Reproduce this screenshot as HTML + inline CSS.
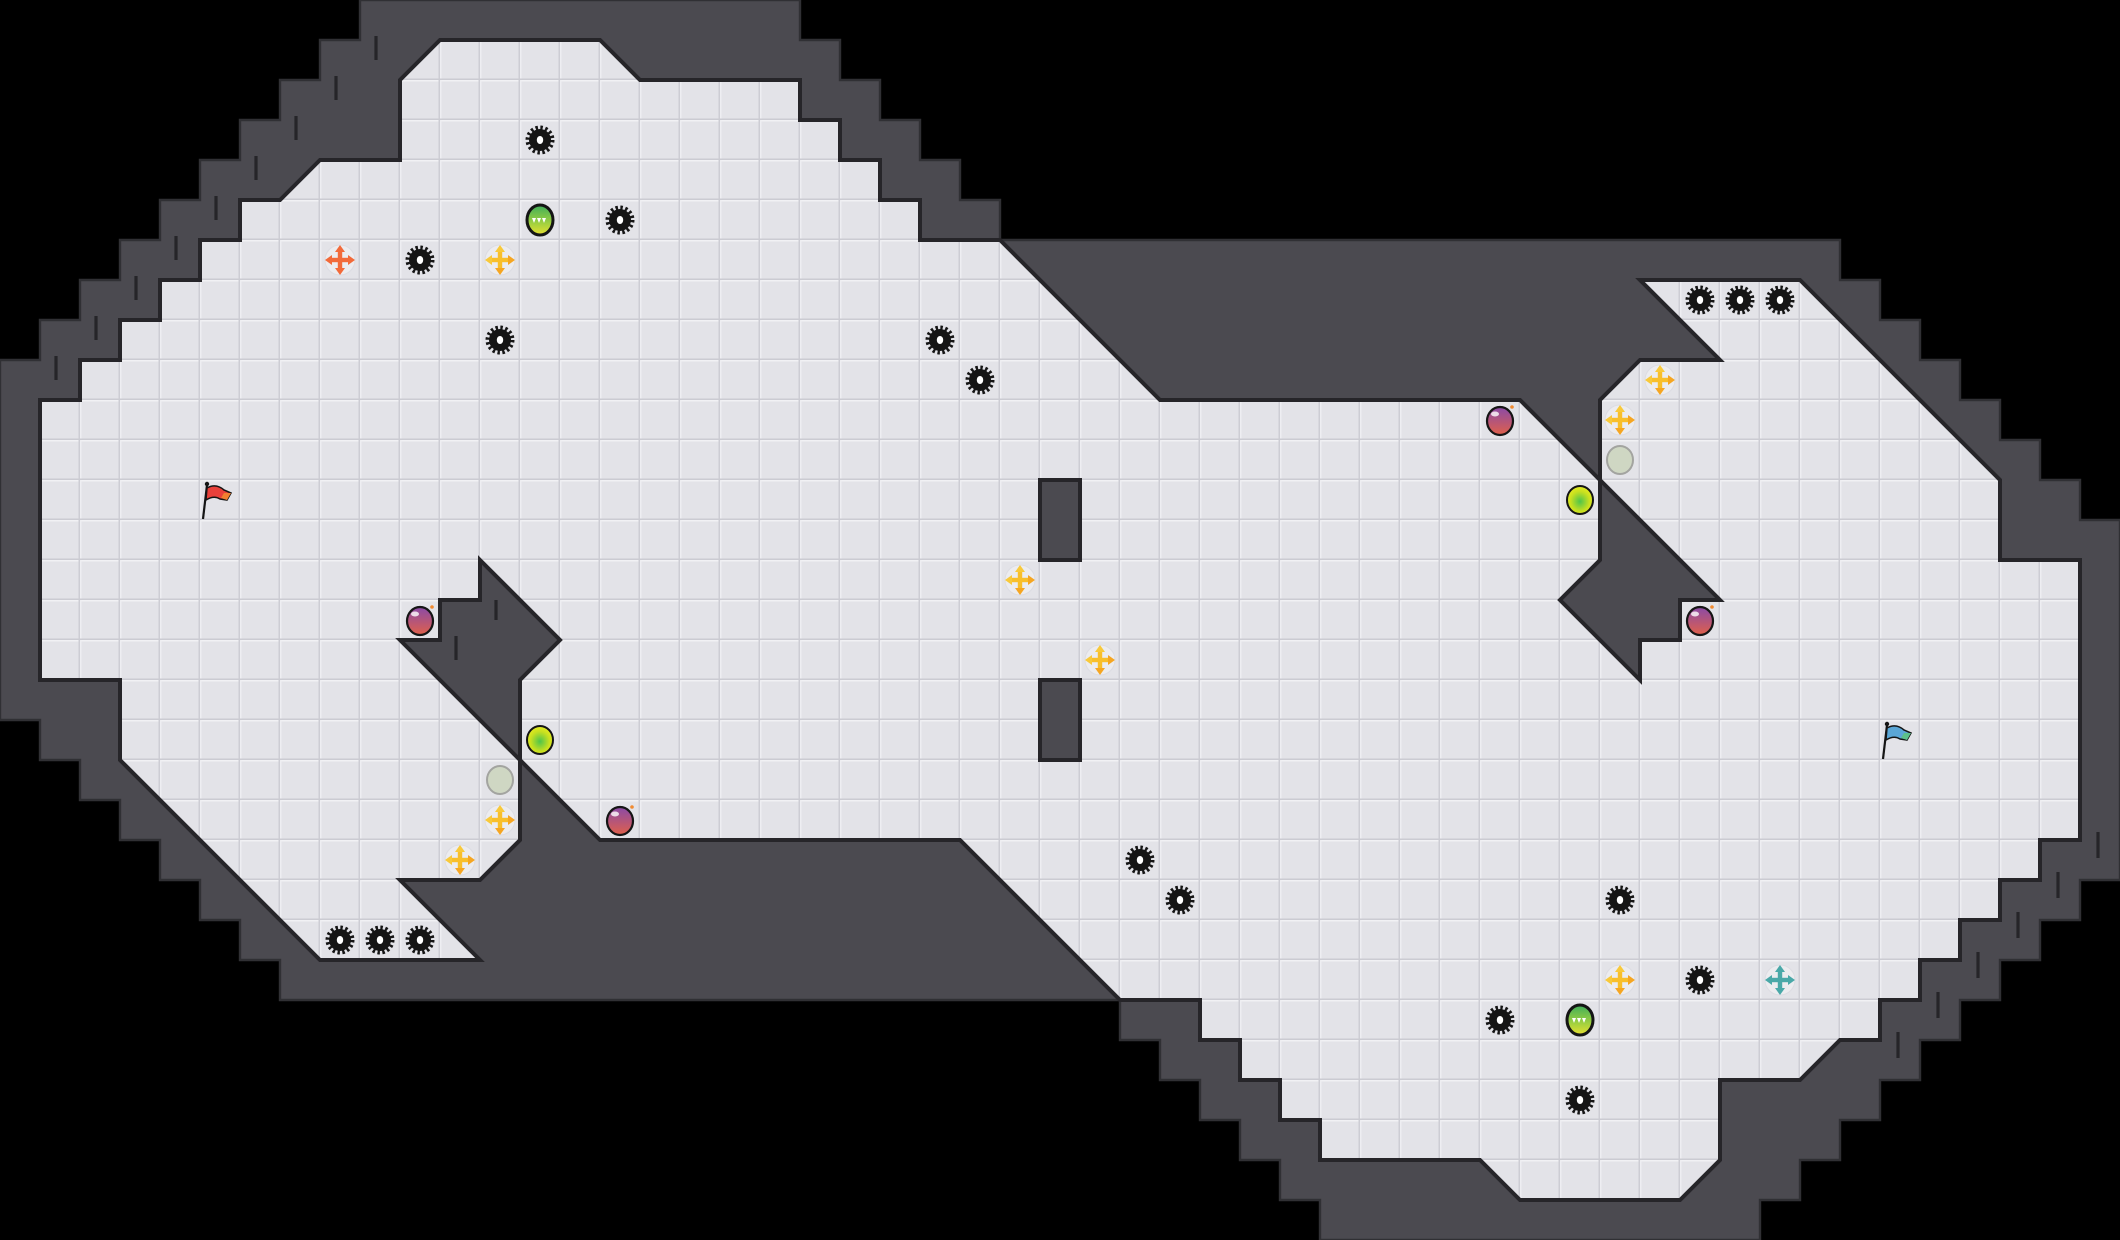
<!DOCTYPE html>
<html><head><meta charset="utf-8"><style>
html,body{margin:0;padding:0;background:#000;}
svg{display:block;}
</style></head><body>
<svg width="2120" height="1240" viewBox="0 0 2120 1240" xmlns="http://www.w3.org/2000/svg">
<defs>
<pattern id="tiles" x="0" y="0" width="1" height="1" patternUnits="userSpaceOnUse">
<g transform="scale(0.025)">
<rect width="40" height="40" fill="#e3e3e8"/>
<rect x="0" y="0" width="40" height="1.5" fill="#f1f1f4"/>
<rect x="0" y="0" width="1.5" height="40" fill="#eeeef2"/>
<rect x="38.5" y="0" width="1.5" height="40" fill="#cdcdd4"/>
<rect x="0" y="38.5" width="40" height="1.5" fill="#cbcbd2"/>
</g>
</pattern>
<radialGradient id="gy" cx="0.5" cy="0.55" r="0.6"><stop offset="0" stop-color="#4fc44a"/><stop offset="0.6" stop-color="#c8e020"/><stop offset="1" stop-color="#eef020"/></radialGradient>
<linearGradient id="gb" x1="0" y1="0" x2="0" y2="1"><stop offset="0" stop-color="#8a4aa8"/><stop offset="1" stop-color="#e0604a"/></linearGradient>
<linearGradient id="gc" x1="0" y1="0" x2="0" y2="1"><stop offset="0" stop-color="#3fae5a"/><stop offset="0.6" stop-color="#9fd040"/><stop offset="1" stop-color="#e8e030"/></linearGradient>
<g id="gear">
<circle cx="20" cy="20" r="12.3" fill="none" stroke="#151515" stroke-width="4.4" stroke-dasharray="2.4 2.43"/>
<circle cx="20" cy="20" r="11" fill="#151515"/>
<ellipse cx="20" cy="20" rx="3.2" ry="4" fill="#fff"/>
</g>
<g id="xy">
<circle cx="20" cy="20" r="15" fill="#ececef" stroke="#dcdce2" stroke-width="1"/>
<rect x="17.8" y="11" width="4.4" height="18" fill="#f8bf2a"/>
<rect x="11" y="17.8" width="18" height="4.4" fill="#f8bf2a"/>
<polygon points="20,5 25,12 15,12" fill="#f8c93a"/>
<polygon points="20,35 25,28 15,28" fill="#f5a623"/>
<polygon points="5,20 12,15 12,25" fill="#f8c93a"/>
<polygon points="35,20 28,15 28,25" fill="#f5a623"/>
</g>
<g id="xo">
<circle cx="20" cy="20" r="15" fill="#ececef" stroke="#dcdce2" stroke-width="1"/>
<rect x="17.8" y="11" width="4.4" height="18" fill="#f26a3a"/>
<rect x="11" y="17.8" width="18" height="4.4" fill="#f26a3a"/>
<polygon points="20,5 25,12 15,12" fill="#f26a3a"/>
<polygon points="20,35 25,28 15,28" fill="#f26a3a"/>
<polygon points="5,20 12,15 12,25" fill="#f26a3a"/>
<polygon points="35,20 28,15 28,25" fill="#f26a3a"/>
</g>
<g id="xt">
<circle cx="20" cy="20" r="15" fill="#ececef" stroke="#dcdce2" stroke-width="1"/>
<rect x="17.8" y="11" width="4.4" height="18" fill="#4aa8a8"/>
<rect x="11" y="17.8" width="18" height="4.4" fill="#4aa8a8"/>
<polygon points="20,5 25,12 15,12" fill="#4aa8a8"/>
<polygon points="20,35 25,28 15,28" fill="#4aa8a8"/>
<polygon points="5,20 12,15 12,25" fill="#4aa8a8"/>
<polygon points="35,20 28,15 28,25" fill="#4aa8a8"/>
</g>
<g id="bomb">
<ellipse cx="20" cy="21" rx="13" ry="14" fill="url(#gb)" stroke="#151515" stroke-width="2.2"/>
<ellipse cx="15" cy="14" rx="4" ry="2.5" fill="#fff" opacity="0.8"/>
<circle cx="32" cy="7" r="1.8" fill="#f08a30"/>
</g>
<g id="caps">
<ellipse cx="20" cy="20" rx="13" ry="15" fill="url(#gc)" stroke="#151515" stroke-width="3"/>
<polygon points="12,18 16,18 14,23" fill="#fff"/>
<polygon points="17,18 21,18 19,23" fill="#fff"/>
<polygon points="22,18 26,18 24,23" fill="#fff"/>
</g>
<g id="yc">
<ellipse cx="20" cy="20" rx="13" ry="14" fill="url(#gy)" stroke="#151515" stroke-width="2"/>
</g>
<g id="pc">
<ellipse cx="20" cy="20" rx="13" ry="14" fill="#cfd7c3" stroke="#a3a4a0" stroke-width="2"/>
</g>
</defs>

<rect width="2120" height="1240" fill="#000"/>

<g transform="scale(40)">
<polygon fill="#4b4a50" stroke="#303034" stroke-width="0.06" points="9,0 20,0 20,1 21,1 21,2 22,2 22,3 23,3 23,4 24,4 24,5 25,5 25,6 46,6 46,7 47,7 47,8 48,8 48,9 49,9 49,10 50,10 50,11 51,11 51,12 52,12 52,13 53,13 53,22 52,22 52,23 51,23 51,24 50,24 50,25 49,25 49,26 48,26 48,27 47,27 47,28 46,28 46,29 45,29 45,30 44,30 44,31 33,31 33,30 32,30 32,29 31,29 31,28 30,28 30,27 29,27 29,26 28,26 28,25 7,25 7,24 6,24 6,23 5,23 5,22 4,22 4,21 3,21 3,20 2,20 2,19 1,19 1,18 0,18 0,9 1,9 1,8 2,8 2,7 3,7 3,6 4,6 4,5 5,5 5,4 6,4 6,3 7,3 7,2 8,2 8,1 9,1"/>
<polygon fill="url(#tiles)" stroke="#262529" stroke-width="0.1" stroke-linejoin="miter" points="11,1 15,1 16,2 20,2 20,3 21,3 21,4 22,4 22,5 23,5 23,6 25,6 29,10 38,10 40,12 40,10 41,9 43,9 41,7 45,7 50,12 50,14 52,14 52,21 51,21 51,22 50,22 50,23 49,23 49,24 48,24 48,25 47,25 47,26 46,26 45,27 43,27 43,29 42,30 38,30 37,29 33,29 33,28 32,28 32,27 31,27 31,26 30,26 30,25 28,25 24,21 15,21 13,19 13,21 12,22 10,22 12,24 8,24 3,19 3,17 1,17 1,10 2,10 2,9 3,9 3,8 4,8 4,7 5,7 5,6 6,6 6,5 7,5 8,4 10,4 10,2"/>
<polygon fill="#4b4a50" stroke="#262529" stroke-width="0.1" points="12,14 14,16 13,17 13,19 10,16 11,16 11,15 12,15"/>
<polygon fill="#4b4a50" stroke="#262529" stroke-width="0.1" points="40,12 43,15 42,15 42,16 41,16 41,17 39,15 40,14"/>
<rect x="26" y="12" width="1" height="2" fill="#4b4a50" stroke="#262529" stroke-width="0.1"/>
<rect x="26" y="17" width="1" height="2" fill="#4b4a50" stroke="#262529" stroke-width="0.1"/>
<g stroke="#262529" stroke-width="0.08">
<line x1="9.4" y1="0.9" x2="9.4" y2="1.5"/>
<line x1="8.4" y1="1.9" x2="8.4" y2="2.5"/>
<line x1="7.4" y1="2.9" x2="7.4" y2="3.5"/>
<line x1="6.4" y1="3.9" x2="6.4" y2="4.5"/>
<line x1="5.4" y1="4.9" x2="5.4" y2="5.5"/>
<line x1="4.4" y1="5.9" x2="4.4" y2="6.5"/>
<line x1="3.4" y1="6.9" x2="3.4" y2="7.5"/>
<line x1="2.4" y1="7.9" x2="2.4" y2="8.5"/>
<line x1="1.4" y1="8.9" x2="1.4" y2="9.5"/>
<line x1="12.4" y1="15" x2="12.4" y2="15.5"/>
<line x1="11.4" y1="15.9" x2="11.4" y2="16.5"/>
<line x1="52.45" y1="20.8" x2="52.45" y2="21.45"/>
<line x1="51.45" y1="21.8" x2="51.45" y2="22.45"/>
<line x1="50.45" y1="22.8" x2="50.45" y2="23.45"/>
<line x1="49.45" y1="23.8" x2="49.45" y2="24.45"/>
<line x1="48.45" y1="24.8" x2="48.45" y2="25.45"/>
<line x1="47.45" y1="25.8" x2="47.45" y2="26.45"/>
</g>
</g>

<use href="#gear" x="520" y="120"/>
<use href="#gear" x="600" y="200"/>
<use href="#gear" x="400" y="240"/>
<use href="#gear" x="480" y="320"/>
<use href="#gear" x="920" y="320"/>
<use href="#gear" x="960" y="360"/>
<use href="#gear" x="1680" y="280"/>
<use href="#gear" x="1720" y="280"/>
<use href="#gear" x="1760" y="280"/>
<use href="#gear" x="320" y="920"/>
<use href="#gear" x="360" y="920"/>
<use href="#gear" x="400" y="920"/>
<use href="#gear" x="1120" y="840"/>
<use href="#gear" x="1160" y="880"/>
<use href="#gear" x="1600" y="880"/>
<use href="#gear" x="1680" y="960"/>
<use href="#gear" x="1480" y="1000"/>
<use href="#gear" x="1560" y="1080"/>

<use href="#xy" x="480" y="240"/>
<use href="#xy" x="1000" y="560"/>
<use href="#xy" x="1080" y="640"/>
<use href="#xy" x="1640" y="360"/>
<use href="#xy" x="1600" y="400"/>
<use href="#xy" x="480" y="800"/>
<use href="#xy" x="440" y="840"/>
<use href="#xy" x="1600" y="960"/>
<use href="#xo" x="320" y="240"/>
<use href="#xt" x="1760" y="960"/>

<use href="#caps" x="520" y="200"/>
<use href="#caps" x="1560" y="1000"/>

<use href="#bomb" x="400" y="600"/>
<use href="#bomb" x="600" y="800"/>
<use href="#bomb" x="1480" y="400"/>
<use href="#bomb" x="1680" y="600"/>

<use href="#yc" x="520" y="720"/>
<use href="#yc" x="1560" y="480"/>
<use href="#pc" x="480" y="760"/>
<use href="#pc" x="1600" y="440"/>

<g transform="translate(200,480)">
<line x1="3" y1="39" x2="7" y2="5" stroke="#151515" stroke-width="2.2"/>
<circle cx="7" cy="4" r="2.2" fill="#151515"/>
<path d="M7,8 Q16,3 24,10 L31,13 L27,20 L20,19 Q14,15 6,20 Z" fill="#e8403a" stroke="#151515" stroke-width="1.5"/>
<path d="M24,13 L31,13 L27,20 L21,18 Z" fill="#f08030"/>
</g>
<g transform="translate(1880,720)">
<line x1="3" y1="39" x2="7" y2="5" stroke="#151515" stroke-width="2.2"/>
<circle cx="7" cy="4" r="2.2" fill="#151515"/>
<path d="M7,8 Q16,3 24,10 L31,13 L27,20 L20,19 Q14,15 6,20 Z" fill="#5aa6d6" stroke="#151515" stroke-width="1.5"/>
<path d="M24,13 L31,13 L27,20 L21,18 Z" fill="#5cc08a"/>
</g>
</svg>
</body></html>
